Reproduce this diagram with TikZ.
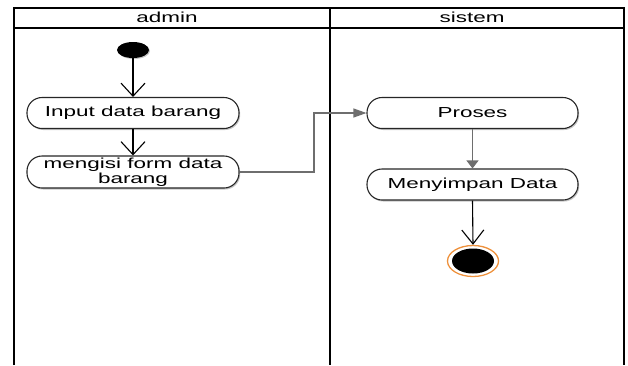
\documentclass[tikz,border=0pt]{standalone}
\usepackage{fontspec}
\setmainfont{Liberation Sans}[FakeStretch=1.55]
\usetikzlibrary{arrows.meta,shapes.geometric,shadows}
\definecolor{endorange}{RGB}{238,145,60}
\definecolor{flowgray}{RGB}{110,110,110}
\begin{document}
\begin{tikzpicture}[x=1pt,y=-1pt,
  every node/.style={font=\fontsize{14.5}{15.5}\selectfont},
  lane/.style={line width=2.2pt,black},
  act/.style={draw=black!85,line width=1.1pt,fill=white,rectangle,rounded corners=15pt,
    minimum width=212pt,minimum height=31pt,inner sep=0pt,align=center,
    drop shadow={shadow xshift=1.2pt,shadow yshift=-1.5pt,fill=black!45,opacity=.5}},
  startnode/.style={ellipse,fill=black,minimum width=32pt,minimum height=16pt,inner sep=0pt,
    drop shadow={shadow xshift=1pt,shadow yshift=-1pt,fill=black!45,opacity=.5}},
  vflow/.style={line width=1.1pt,black,-{Straight Barb[length=13pt,width=24pt]}},
  gflow/.style={line width=1.1pt,flowgray},
]
\useasboundingbox (0,0) rectangle (628,365);
% swimlanes
\draw[lane] (14,365) -- (14,8) -- (624,8) -- (624,365);
\draw[lane] (330,8) -- (330,365);
\draw[lane] (14,28) -- (624,28);
\node (hadmin) at (167,17.5) {admin};
\node (hsistem) at (472,17.5) {sistem};
% nodes
\node[startnode] (start) at (133,50) {};
\node[act] (input) at (133,113) {Input data barang};
\node[act,minimum height=32pt] (isi) at (133,172) {mengisi form data\\barang};
\node[act,minimum width=211pt] (proses) at (472.5,113) {Proses};
\node[act,minimum width=211pt] (simpan) at (472.5,184.5) {Menyimpan Data};
\node[ellipse,draw=endorange,line width=1.3pt,minimum width=51pt,minimum height=31pt,inner sep=0pt] (end) at (473,261) {};
\node[ellipse,fill=black,minimum width=42pt,minimum height=25pt,inner sep=0pt] (endin) at (end.center) {};
% connectors
\draw[vflow] (start.south) -- (input.north);
\draw[vflow] (input.south) -- (isi.north);
\coordinate (bend) at (314,172);
\draw[gflow,-{Triangle[length=13pt,width=9pt]}] (isi.east) -- (bend) |- (proses.west);
\draw[gflow,-{Triangle[length=8pt,width=12pt]}] (proses.south) -- (simpan.north);
\draw[line width=1.1pt,black,-{Straight Barb[length=14pt,width=22pt]}] (simpan.south) -- (end.north);
\end{tikzpicture}
\end{document}
